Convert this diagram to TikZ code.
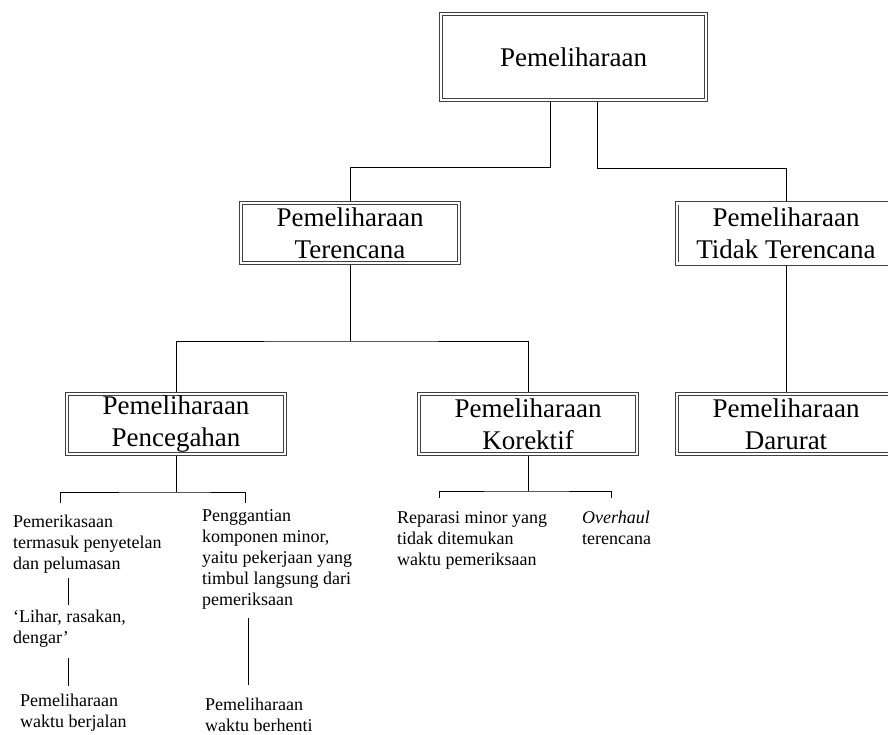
\documentclass[tikz,border=0pt]{standalone}
\usepackage{fontspec}
\setmainfont{Liberation Serif}
\begin{document}
\begin{tikzpicture}[x=1pt,y=-1pt,
  kotak/.style={draw=black!75,line width=0.9pt,double=white,double distance=2.2pt,fill=white,inner sep=0pt,outer sep=2pt,minimum width=218pt,minimum height=60pt,align=center,font=\fontsize{27}{32}\selectfont},
  ket/.style={anchor=base west,inner sep=0pt,align=left,font=\fontsize{18}{21}\selectfont},
  garis/.style={line width=0.8pt}]
  \clip (0,0) rectangle (888,735);
  \node[kotak,minimum width=265pt,minimum height=86pt] (top) at (573.5,57) {Pemeliharaan};
  \node[kotak] (ter) at (350,233) {Pemeliharaan\\Terencana};
  \node[kotak] (tdk) at (786,233.5) {Pemeliharaan\\Tidak Terencana};
  \node[kotak] (pcg) at (176,424) {Pemeliharaan\\Pencegahan};
  \node[kotak] (kor) at (528,424) {Pemeliharaan\\Korektif};
  \node[kotak] (dar) at (786,424) {Pemeliharaan\\Darurat};
  \node[ket] (periksa) at (13,569) {Pemerikasaan\\termasuk penyetelan\\dan pelumasan};
  \node[ket] (lihat) at (13,643) {‘Lihar, rasakan,\\dengar’};
  \node[ket] (jalan) at (20,727) {Pemeliharaan\\waktu berjalan};
  \node[ket] (ganti) at (202,605) {Penggantian\\komponen minor,\\yaitu pekerjaan yang\\timbul langsung dari\\pemeriksaan};
  \node[ket] (henti) at (205,731) {Pemeliharaan\\waktu berhenti};
  \node[ket] (reparasi) at (397,565) {Reparasi minor yang\\tidak ditemukan\\waktu pemeriksaan};
  \node[ket] (overhaul) at (582,544) {\textit{Overhaul}\\terencana};
  \coordinate (p1) at (60,503); \coordinate (p2) at (245,503);
  \coordinate (k1) at (439,498); \coordinate (k2) at (611,498);
  \coordinate (a1) at (68,578); \coordinate (a2) at (68,605);
  \coordinate (b1) at (68,658); \coordinate (b2) at (68,686);
  \coordinate (c1) at (248,618); \coordinate (c2) at (248,685);
  \draw[garis] ([xshift=-23.5pt]top.south) -- ++(0,65) -| (ter.north);
  \draw[garis] ([xshift=23.5pt]top.south) -- ++(0,66) -| (tdk.north);
  \draw[garis] (ter.south) -- ++(0,76) coordinate (ts);
  \draw[garis] (pcg.north) |- (ts) -| (kor.north);
  \draw[garis] (tdk.south) -- (dar.north);
  \draw[garis] (pcg.south) -- ++(0,36) coordinate (ps);
  \draw[garis] (p1) |- (ps) -| (p2);
  \draw[garis] (kor.south) -- ++(0,35) coordinate (ks);
  \draw[garis] (k1) |- (ks) -| (k2);
  \draw[garis] (a1) -- (a2); \draw[garis] (b1) -- (b2); \draw[garis] (c1) -- (c2);
\end{tikzpicture}
\end{document}
